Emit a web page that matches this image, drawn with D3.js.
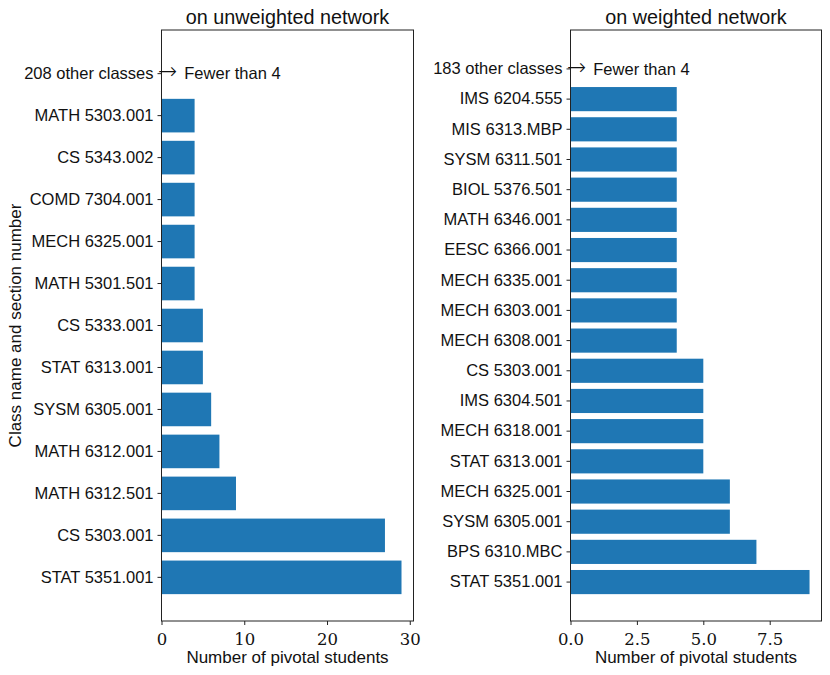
<!DOCTYPE html>
<html>
<head>
<meta charset="utf-8">
<script src="https://cdn.jsdelivr.net/npm/d3@7"></script>
<style>
  html, body { margin: 0; padding: 0; background: #fff; }
  svg { display: block; }
</style>
</head>
<body>
<svg id="chart" width="830" height="675"></svg>
<script>
// ---- data (bottom to top) ----
const leftCategories = ["STAT 5351.001", "CS 5303.001", "MATH 6312.501", "MATH 6312.001",
  "SYSM 6305.001", "STAT 6313.001", "CS 5333.001", "MATH 5301.501", "MECH 6325.001",
  "COMD 7304.001", "CS 5343.002", "MATH 5303.001", "208 other classes"];
const leftValues = [29, 27, 9, 7, 6, 5, 5, 4, 4, 4, 4, 4, 0];
const leftTicks = [0, 10, 20, 30];
const leftTickLabels = ["0", "10", "20", "30"];

const rightCategories = ["STAT 5351.001", "BPS 6310.MBC", "SYSM 6305.001", "MECH 6325.001",
  "STAT 6313.001", "MECH 6318.001", "IMS 6304.501", "CS 5303.001", "MECH 6308.001",
  "MECH 6303.001", "MECH 6335.001", "EESC 6366.001", "MATH 6346.001", "BIOL 5376.501",
  "SYSM 6311.501", "MIS 6313.MBP", "IMS 6204.555", "183 other classes"];
const rightValues = [9, 7, 6, 6, 5, 5, 5, 5, 4, 4, 4, 4, 4, 4, 4, 4, 4, 0];
const rightTicks = [0, 2.5, 5, 7.5];
const rightTickLabels = ["0.0", "2.5", "5.0", "7.5"];

const annotationArrow = "\u2192";
const annotationText = "Fewer than 4";
const titles = ["on unweighted network", "on weighted network"];
const xLabel = "Number of pivotal students";
const yLabel = "Class name and section number";

// ---- layout ----
const svg = d3.select("#chart");
const sans = "'Liberation Sans', Arial, sans-serif";
const serif = "'DejaVu Serif', 'Liberation Serif', serif";
const barColor = "#1f77b4";
const plotTop = 30, plotBottom = 621;

function panel(cfg) {
  const g = svg.append("g");
  const n = cfg.categories.length;
  const maxV = d3.max(cfg.values);
  const x = d3.scaleLinear().domain([0, maxV * 1.05]).range([cfg.left, cfg.right]);
  const y = d3.scaleBand()
    .domain(d3.range(n))
    .range([plotBottom, plotTop])
    .paddingInner(0.2)
    .paddingOuter(0.05 * (n - 0.2));

  g.selectAll("rect.bar").data(cfg.values).join("rect")
    .attr("class", "bar")
    .attr("x", x(0))
    .attr("y", (d, i) => y(i))
    .attr("width", d => x(d) - x(0))
    .attr("height", y.bandwidth())
    .attr("fill", barColor);

  g.append("rect")
    .attr("x", cfg.left).attr("y", plotTop)
    .attr("width", cfg.right - cfg.left).attr("height", plotBottom - plotTop)
    .attr("fill", "none").attr("stroke", "#222").attr("stroke-width", 1);

  const xAxis = d3.axisBottom(x).tickValues(cfg.ticks)
    .tickFormat((d, i) => cfg.tickLabels[i]).tickSize(4).tickPadding(5);
  const xa = g.append("g").attr("transform", `translate(0,${plotBottom})`).call(xAxis);
  xa.select(".domain").remove();
  xa.selectAll("line").attr("stroke", "#222");
  xa.selectAll("text").attr("font-family", serif).attr("font-size", 16.5).attr("fill", "#111")
    .attr("dy", "0.9em");

  const yAxis = d3.axisLeft(y).tickFormat(i => cfg.categories[i]).tickSize(4).tickPadding(4);
  const ya = g.append("g").attr("transform", `translate(${cfg.left},0)`).call(yAxis);
  ya.select(".domain").remove();
  ya.selectAll("line").attr("stroke", "#222");
  ya.selectAll("text").attr("font-family", sans).attr("font-size", 16.5).attr("fill", "#111");

  const yc = y(n - 1) + y.bandwidth() / 2;
  const ann = g.append("text")
    .attr("x", cfg.left - 3.5)
    .attr("y", yc + 5.8)
    .attr("fill", "#111");
  ann.append("tspan")
    .attr("font-family", "'DejaVu Sans', sans-serif").attr("font-size", 23)
    .attr("font-weight", 200)
    .text(annotationArrow);
  ann.append("tspan")
    .attr("font-family", sans).attr("font-size", 16.5)
    .attr("dx", 7)
    .text(annotationText);

  g.append("text")
    .attr("x", (cfg.left + cfg.right) / 2).attr("y", 24)
    .attr("text-anchor", "middle")
    .attr("font-family", sans).attr("font-size", 19.8).attr("fill", "#111")
    .text(cfg.title);

  g.append("text")
    .attr("x", (cfg.left + cfg.right) / 2).attr("y", 663)
    .attr("text-anchor", "middle")
    .attr("font-family", sans).attr("font-size", 17).attr("fill", "#111")
    .text(xLabel);
}

panel({ left: 161.5, right: 413.5, categories: leftCategories, values: leftValues,
        ticks: leftTicks, tickLabels: leftTickLabels, title: titles[0] });
panel({ left: 570.5, right: 821.5, categories: rightCategories, values: rightValues,
        ticks: rightTicks, tickLabels: rightTickLabels, title: titles[1] });

svg.append("text")
  .attr("transform", `translate(21,${(plotTop + plotBottom) / 2}) rotate(-90)`)
  .attr("text-anchor", "middle")
  .attr("font-family", sans).attr("font-size", 17).attr("fill", "#111")
  .text(yLabel);
</script>
</body>
</html>
